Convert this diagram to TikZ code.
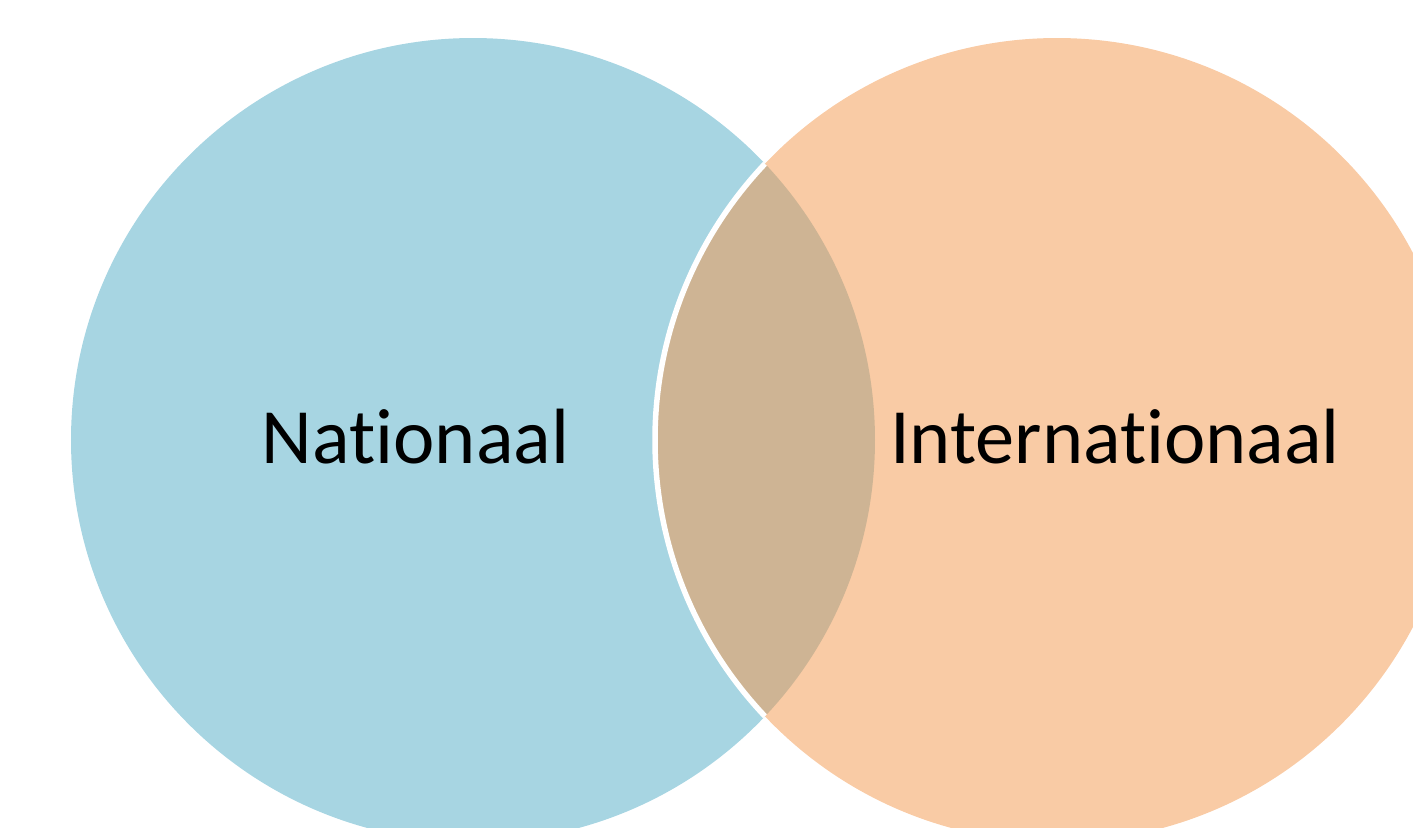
\documentclass[tikz,border=0pt]{standalone}
\usepackage{fontspec}
\setmainfont{Carlito}[Ligatures={NoCommon}]
\usepackage{tikz}
\usetikzlibrary{positioning}
\definecolor{nationalColor}{RGB}{167,213,226}
\definecolor{internationalColor}{RGB}{249,203,165}
\definecolor{overlapColor}{RGB}{206,180,148}
\tikzstyle{setLabel} = [font=\fontsize{22.3}{26}\selectfont, anchor=base, inner sep=0pt]
\tikzstyle{setBorder} = [draw=white, line width=0.055cm]
\newcommand{\radius}{4.02cm}
\newcommand{\leftSet}{(4.73,-4.40) circle [radius=\radius]}
\newcommand{\rightSet}{(10.57,-4.40) circle [radius=\radius]}

\begin{document}
\begin{tikzpicture}
       \useasboundingbox (0,0) rectangle (14.13,-8.27);
       \clip (0,0) rectangle (14.13,-8.27);
       \fill [nationalColor] \leftSet;
       \fill [internationalColor] \rightSet;
       \begin{scope}
         \clip \leftSet;
         \fill [overlapColor] \rightSet;
       \end{scope}
       \begin{scope}
         \clip \leftSet;
         \draw [setBorder] \rightSet;
       \end{scope}

       \node [setLabel] (nationaal) at (4.155,-4.63) {Nationaal};
       \node [setLabel] (internationaal) at (11.15,-4.63) {Internationaal};
\end{tikzpicture}
\end{document}
